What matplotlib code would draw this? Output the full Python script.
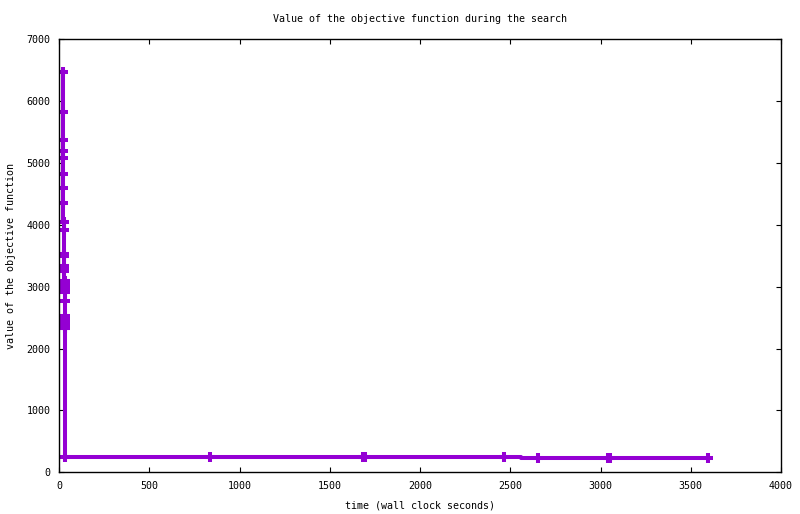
import matplotlib
matplotlib.use("Agg")
import matplotlib.pyplot as plt

# search trace: wall clock time (s) and objective value
t = [21, 21.5, 22, 22.5, 23, 23.5, 24, 24.5, 25, 25.5,
     27, 28, 28.5, 29, 29.5,
     31, 31.5, 32, 32.5, 33, 33.5, 32, 32.5,
     33, 33.5, 34, 33.5, 33, 33,
     33, 837, 1685, 1693, 2467, 2652, 3040, 3050, 3594]
v = [6475, 5830, 5372, 5200, 5087, 4828, 4602, 4359, 4052, 3922,
     3530, 3500, 3330, 3295, 3260,
     3095, 3060, 3020, 2985, 2950, 2910, 2774, 2520,
     2480, 2440, 2400, 2370, 2340, 2330,
     250, 250, 252, 247, 250, 231, 233, 228, 230]

title = "Value of the objective function during the search"
xlabel = "time (wall clock seconds)"
ylabel = "value of the objective function"
xticks = [0, 500, 1000, 1500, 2000, 2500, 3000, 3500, 4000]
yticks = [0, 1000, 2000, 3000, 4000, 5000, 6000, 7000]

plt.rcParams["font.family"] = ["DejaVu Sans Mono"]
plt.rcParams["font.size"] = 7.2

fig = plt.figure(figsize=(8, 5.14), dpi=100)
ax = fig.add_axes([59 / 800, 1 - 472.3 / 514, 722 / 800, 433 / 514])

ax.plot(t, v, drawstyle="steps-mid", color="#9400d3", lw=2.9,
        marker="+", ms=6.5, mew=2.9, solid_capstyle="butt")

ax.set_xlim(0, 4000)
ax.set_ylim(0, 7000)
ax.set_xticks(xticks)
ax.set_yticks(yticks)
ax.tick_params(direction="in", length=3.6, width=0.8, top=True, right=True,
               pad=6, colors="black")
for s in ax.spines.values():
    s.set_linewidth(1.0)

fig.text(420 / 800, 1 - 19 / 514, title, ha="center", va="center")
fig.text(420 / 800, 1 - 506 / 514, xlabel, ha="center", va="center")
fig.text(11 / 800, 1 - 256 / 514, ylabel, ha="center", va="center",
         rotation=90)

fig.savefig("out.png", dpi=100)
